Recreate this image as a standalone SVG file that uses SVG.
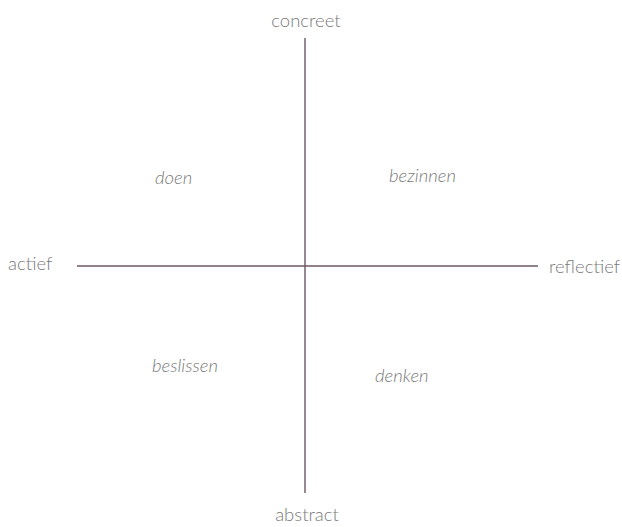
<svg xmlns="http://www.w3.org/2000/svg" width="622" height="527" viewBox="0 0 622 527">
<style>
.lbl{font-family:Lato,"Open Sans","Liberation Sans",sans-serif;font-size:18.5px;fill:#7a7a7a;font-weight:300}
.it{font-style:italic}
.ax{stroke:#6b5763;stroke-width:1.4;fill:none}
</style>
<rect width="622" height="527" fill="#ffffff"/>
<g id="connectors">
<line class="ax" x1="305" y1="38" x2="305" y2="493"/>
<line class="ax" x1="77" y1="266" x2="538" y2="266"/>
</g>
<g id="concreet"><text class="lbl" x="306" y="27" text-anchor="middle">concreet</text></g>
<g id="abstract"><text class="lbl" x="307" y="521" text-anchor="middle">abstract</text></g>
<g id="actief"><text class="lbl" x="8" y="270">actief</text></g>
<g id="reflectief"><text class="lbl" x="549" y="273">reflectief</text></g>
<g id="doen"><text class="lbl it" x="155" y="184">doen</text></g>
<g id="bezinnen"><text class="lbl it" x="389" y="182">bezinnen</text></g>
<g id="beslissen"><text class="lbl it" x="152" y="372">beslissen</text></g>
<g id="denken"><text class="lbl it" x="375" y="382">denken</text></g>
</svg>
